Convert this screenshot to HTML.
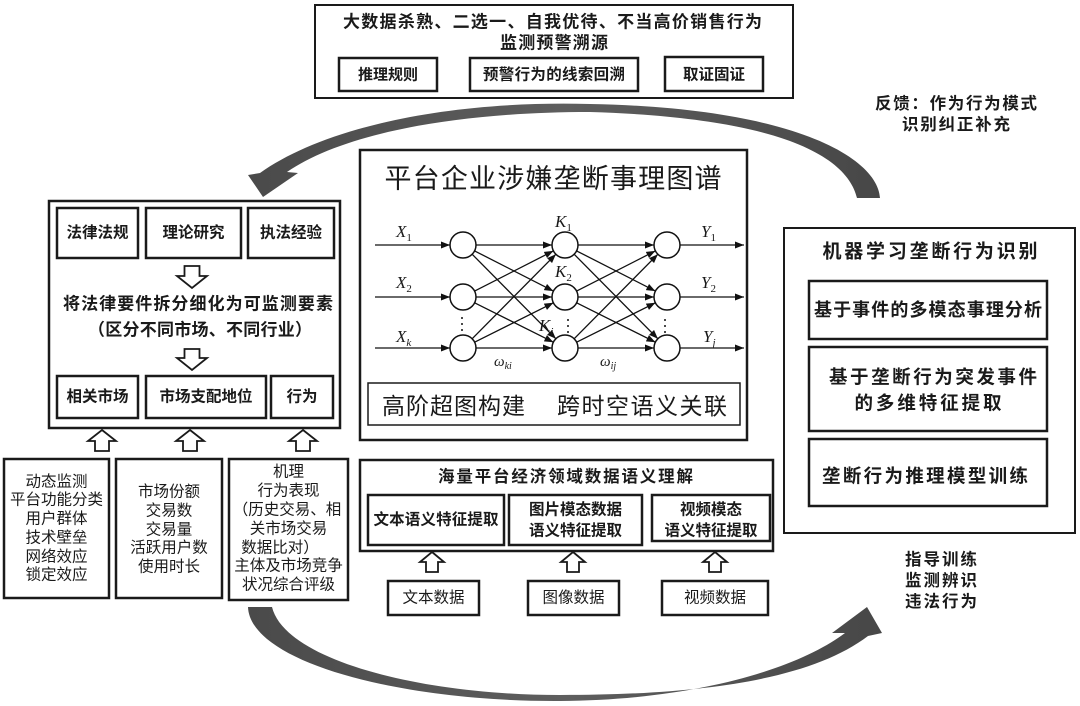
<!DOCTYPE html>
<html>
<head>
<meta charset="utf-8">
<style>
html,body{margin:0;padding:0;background:#fff;}
svg{display:block;}
text{font-family:"Liberation Sans","Noto Sans CJK SC","WenQuanYi Zen Hei",sans-serif;fill:#1a1a1a;}
.b{font-weight:700;}
.s text{font-family:"Liberation Serif","DejaVu Serif",serif;font-style:italic;}
</style>
</head>
<body>
<svg width="1080" height="706" viewBox="0 0 1080 706" xmlns="http://www.w3.org/2000/svg">
<defs>
<marker id="ah" markerUnits="userSpaceOnUse" markerWidth="9" markerHeight="7" refX="9" refY="3.5" orient="auto">
<path d="M0,0 L9,3.5 L0,7 z" fill="#111"/>
</marker>
<linearGradient id="g1" x1="0" y1="0" x2="1" y2="0">
<stop offset="0" stop-color="#4a4a4a"/>
<stop offset="0.5" stop-color="#5e5e5e"/>
<stop offset="1" stop-color="#474747"/>
</linearGradient>
</defs>

<!-- big curved arrows -->
<path d="M880,198 C878,160 800,108 590,104 C440,100 320,130 260,173 L248,175 L263,197 L298,173 L287,172 C340,135 450,112 590,112 C790,118 848,160 857,198 Z" fill="url(#g1)"/>
<path d="M248,607 C250,662 400,702 560,701 C700,700 800,667 845,633 L832,633 L867,607 L882,633 L868,636 C810,680 700,695 560,695 C420,695 285,660 272,607 Z" fill="url(#g1)"/>

<g fill="none" stroke="#1a1a1a">
<!-- top box -->
<rect x="315" y="5" width="478" height="93" stroke-width="2"/>
<rect x="339" y="58" width="98" height="33" stroke-width="2.5"/>
<rect x="470" y="58" width="168" height="33" stroke-width="2.5"/>
<rect x="665" y="57" width="98" height="34" stroke-width="2.5"/>
<!-- left box -->
<rect x="49" y="201" width="291" height="227" stroke-width="2.5"/>
<rect x="57" y="208" width="81" height="50" stroke-width="2.5"/>
<rect x="146" y="208" width="95" height="50" stroke-width="2.5"/>
<rect x="248" y="208" width="86" height="50" stroke-width="2.5"/>
<rect x="57" y="376" width="81" height="42" stroke-width="2.5"/>
<rect x="146" y="376" width="120" height="42" stroke-width="2.5"/>
<rect x="271" y="376" width="62" height="42" stroke-width="2.5"/>
<!-- bottom-left boxes -->
<rect x="4" y="459" width="105" height="139" stroke-width="2.5"/>
<rect x="116" y="459" width="106" height="139" stroke-width="2.5"/>
<rect x="229" y="459" width="119" height="141" stroke-width="2.5"/>
<!-- center box -->
<rect x="360" y="150" width="387" height="290" stroke-width="2.5"/>
<rect x="368" y="383" width="372" height="42" stroke-width="1.5"/>
<!-- data box -->
<rect x="360" y="460" width="413" height="91" stroke-width="2.5"/>
<rect x="368" y="495" width="136" height="50" stroke-width="2.5"/>
<rect x="509" y="495" width="133" height="50" stroke-width="2.5"/>
<rect x="652" y="495" width="118" height="46" stroke-width="2.5"/>
<rect x="388" y="581" width="91" height="34" stroke-width="2.5"/>
<rect x="528" y="581" width="91" height="34" stroke-width="2.5"/>
<rect x="662" y="581" width="106" height="34" stroke-width="2.5"/>
<!-- right box -->
<rect x="784" y="228" width="291" height="305" stroke-width="2"/>
<rect x="809" y="281" width="238" height="58" stroke-width="2.5"/>
<rect x="809" y="347" width="238" height="84" stroke-width="2.5"/>
<rect x="809" y="439" width="238" height="67" stroke-width="2.5"/>
</g>

<!-- hollow block arrows -->
<g fill="#fff" stroke="#1a1a1a" stroke-width="1.8" stroke-linejoin="miter">
<path d="M184.5,266 L199.5,266 L199.5,276 L207,276 L192,288 L177,276 L184.5,276 Z"/>
<path d="M184.5,349 L199.5,349 L199.5,358 L207,358 L192,370 L177,358 L184.5,358 Z"/>
<path d="M102,430 L116,441 L109,441 L109,451 L95,451 L95,441 L88,441 Z"/>
<path d="M190,430 L204,441 L197,441 L197,451 L183,451 L183,441 L176,441 Z"/>
<path d="M303,430 L317,441 L310,441 L310,451 L296,451 L296,441 L289,441 Z"/>
<path d="M432,552 L444,562 L438,562 L438,572 L426,572 L426,562 L420,562 Z"/>
<path d="M573,552 L585,562 L579,562 L579,572 L567,572 L567,562 L561,562 Z"/>
<path d="M715,552 L727,562 L721,562 L721,572 L709,572 L709,562 L703,562 Z"/>
</g>

<!-- neural network -->
<g stroke="#111" stroke-width="1.3" marker-end="url(#ah)">
<line x1="375" y1="245" x2="450" y2="245"/>
<line x1="375" y1="297" x2="450" y2="297"/>
<line x1="375" y1="348" x2="450" y2="348"/>

<line x1="476" y1="245" x2="552" y2="245"/>
<line x1="474.6" y1="250.9" x2="553.4" y2="291.1"/>
<line x1="472.1" y1="254.2" x2="555.9" y2="338.8"/>
<line x1="474.6" y1="291.1" x2="553.4" y2="250.9"/>
<line x1="476" y1="297" x2="552" y2="297"/>
<line x1="474.6" y1="302.8" x2="553.4" y2="342.2"/>
<line x1="472.1" y1="338.8" x2="555.9" y2="254.2"/>
<line x1="474.6" y1="342.2" x2="553.4" y2="302.8"/>
<line x1="476" y1="348" x2="552" y2="348"/>

<line x1="578" y1="245" x2="654" y2="245"/>
<line x1="576.6" y1="250.9" x2="655.4" y2="291.1"/>
<line x1="574.1" y1="254.2" x2="657.9" y2="338.8"/>
<line x1="576.6" y1="291.1" x2="655.4" y2="250.9"/>
<line x1="578" y1="297" x2="654" y2="297"/>
<line x1="576.6" y1="302.8" x2="655.4" y2="342.2"/>
<line x1="574.1" y1="338.8" x2="657.9" y2="254.2"/>
<line x1="576.6" y1="342.2" x2="655.4" y2="302.8"/>
<line x1="578" y1="348" x2="654" y2="348"/>

<line x1="680" y1="245" x2="744" y2="245"/>
<line x1="680" y1="297" x2="744" y2="297"/>
<line x1="680" y1="348" x2="744" y2="348"/>
</g>
<g fill="#fff" stroke="#111" stroke-width="1.5">
<circle cx="463" cy="245" r="13"/><circle cx="463" cy="297" r="13"/><circle cx="463" cy="348" r="13"/>
<circle cx="565" cy="245" r="13"/><circle cx="565" cy="297" r="13"/><circle cx="565" cy="348" r="13"/>
<circle cx="667" cy="245" r="13"/><circle cx="667" cy="297" r="13"/><circle cx="667" cy="348" r="13"/>
</g>
<g fill="#111">
<circle cx="462" cy="318" r="1"/><circle cx="462" cy="324" r="1"/><circle cx="462" cy="330" r="1"/>
<circle cx="568" cy="320" r="1"/><circle cx="568" cy="326" r="1"/><circle cx="568" cy="332" r="1"/>
<circle cx="665" cy="320" r="1"/><circle cx="665" cy="326" r="1"/><circle cx="665" cy="332" r="1"/>
</g>
<g class="s" font-size="17">
<text x="396" y="237">X<tspan font-size="11" dy="4" font-style="normal">1</tspan></text>
<text x="396" y="288">X<tspan font-size="11" dy="4" font-style="normal">2</tspan></text>
<text x="396" y="342">X<tspan font-size="11" dy="4">k</tspan></text>
<text x="555" y="227">K<tspan font-size="11" dy="4" font-style="normal">1</tspan></text>
<text x="555" y="277">K<tspan font-size="11" dy="4" font-style="normal">2</tspan></text>
<text x="539" y="331">K<tspan font-size="11" dy="4">i</tspan></text>
<text x="701" y="237">Y<tspan font-size="11" dy="4" font-style="normal">1</tspan></text>
<text x="701" y="288">Y<tspan font-size="11" dy="4" font-style="normal">2</tspan></text>
<text x="703" y="342">Y<tspan font-size="11" dy="4">j</tspan></text>
<text x="494" y="366" font-size="15">ω<tspan font-size="10" dy="3">ki</tspan></text>
<text x="600" y="366" font-size="15">ω<tspan font-size="10" dy="3">ij</tspan></text>
</g>

<!-- texts -->
<g dominant-baseline="central" text-anchor="middle">
<text class="b" x="552.5" y="22" font-size="17" textLength="419" lengthAdjust="spacing">大数据杀熟、二选一、自我优待、不当高价销售行为</text>
<text class="b" x="554" y="43" font-size="17" textLength="108" lengthAdjust="spacing">监测预警溯源</text>
<text class="b" x="388" y="75" font-size="15">推理规则</text>
<text class="b" x="554" y="75" font-size="15.5" textLength="142" lengthAdjust="spacing">预警行为的线索回溯</text>
<text class="b" x="714" y="75" font-size="15.5">取证固证</text>

<text class="b" x="956" y="104" font-size="16.5" textLength="162" lengthAdjust="spacing">反馈：作为行为模式</text>
<text class="b" x="956" y="125" font-size="16.5" textLength="108" lengthAdjust="spacing">识别纠正补充</text>

<text class="b" x="97.5" y="233" font-size="15.5">法律法规</text>
<text class="b" x="193.5" y="233" font-size="15.5">理论研究</text>
<text class="b" x="291" y="233" font-size="15.5">执法经验</text>
<text class="b" x="198" y="304" font-size="17" textLength="270" lengthAdjust="spacing">将法律要件拆分细化为可监测要素</text>
<text class="b" x="200" y="330" font-size="17" textLength="224" lengthAdjust="spacing">（区分不同市场、不同行业）</text>
<text class="b" x="97.5" y="397" font-size="15.5">相关市场</text>
<text class="b" x="206" y="397" font-size="15.5">市场支配地位</text>
<text class="b" x="302" y="397" font-size="15.5">行为</text>

<g font-size="15.5">
<text x="56.5" y="482">动态监测</text>
<text x="56.5" y="500">平台功能分类</text>
<text x="56.5" y="519">用户群体</text>
<text x="56.5" y="538">技术壁垒</text>
<text x="56.5" y="557">网络效应</text>
<text x="56.5" y="575">锁定效应</text>

<text x="169" y="492">市场份额</text>
<text x="169" y="511">交易数</text>
<text x="169" y="530">交易量</text>
<text x="169" y="548">活跃用户数</text>
<text x="169" y="567">使用时长</text>

<text x="288.5" y="472">机理</text>
<text x="288.5" y="491">行为表现</text>
<text x="287" y="510">（历史交易、相</text>
<text x="288.5" y="529">关市场交易</text>
<text x="280" y="548">数据比对）</text>
<text x="288.5" y="566">主体及市场竞争</text>
<text x="288.5" y="585">状况综合评级</text>
</g>

<text x="553" y="179" font-size="27" textLength="337" lengthAdjust="spacing">平台企业涉嫌垄断事理图谱</text>
<text x="453.5" y="406" font-size="23" textLength="143" lengthAdjust="spacing">高阶超图构建</text>
<text x="642" y="406" font-size="23" textLength="170" lengthAdjust="spacing">跨时空语义关联</text>

<text class="b" x="565.5" y="477" font-size="16.5" textLength="255" lengthAdjust="spacing">海量平台经济领域数据语义理解</text>
<text class="b" x="436" y="520" font-size="15.5" textLength="125" lengthAdjust="spacing">文本语义特征提取</text>
<text class="b" x="575.5" y="510" font-size="15.5">图片模态数据</text>
<text class="b" x="575.5" y="531" font-size="15.5">语义特征提取</text>
<text class="b" x="711" y="510" font-size="15.5">视频模态</text>
<text class="b" x="711" y="531" font-size="15.5">语义特征提取</text>
<text x="433.5" y="598" font-size="15.5">文本数据</text>
<text x="573.5" y="598" font-size="15.5">图像数据</text>
<text x="715" y="598" font-size="15.5">视频数据</text>

<text class="b" x="930" y="252" font-size="19" textLength="215" lengthAdjust="spacing">机器学习垄断行为识别</text>
<text class="b" x="928" y="310" font-size="18" textLength="228" lengthAdjust="spacing">基于事件的多模态事理分析</text>
<text class="b" x="933" y="377" font-size="18.5" textLength="208" lengthAdjust="spacing">基于垄断行为突发事件</text>
<text class="b" x="928" y="403" font-size="18.5" textLength="147" lengthAdjust="spacing">的多维特征提取</text>
<text class="b" x="925" y="476" font-size="18.5" textLength="206" lengthAdjust="spacing">垄断行为推理模型训练</text>

<text class="b" x="941" y="560" font-size="16.5" textLength="72" lengthAdjust="spacing">指导训练</text>
<text class="b" x="941" y="581" font-size="16.5" textLength="72" lengthAdjust="spacing">监测辨识</text>
<text class="b" x="941" y="602" font-size="16.5" textLength="72" lengthAdjust="spacing">违法行为</text>
</g>
</svg>
</body>
</html>
